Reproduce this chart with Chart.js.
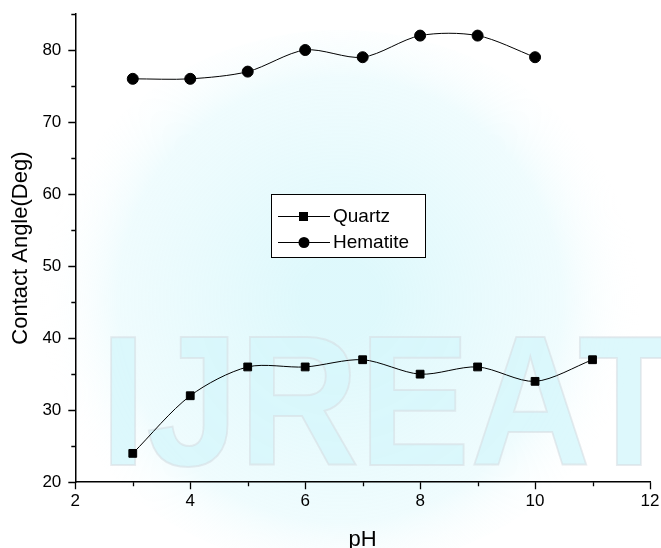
<!DOCTYPE html>
<html>
<head>
<meta charset="utf-8">
<script src="https://cdn.jsdelivr.net/npm/chart.js@4/dist/chart.umd.min.js"></script>
<style>
  html, body { margin: 0; padding: 0; background: #fff; }
  #wrap { width: 661px; height: 548px; position: relative; }
</style>
</head>
<body>
<div id="wrap"><canvas id="chart" width="661" height="548"></canvas></div>
<script>
const quartzPH = [3, 4, 5, 6, 7, 8, 9, 10, 11]
const quartzAngle = [24, 32, 36, 36, 37, 35, 36, 34, 37]
const hematitePH = [3, 4, 5, 6, 7, 8, 9, 10]
const hematiteAngle = [76, 76, 77, 80, 79, 82, 82, 79]
const xTicks = [2, 4, 6, 8, 10, 12]
const yTicks = [20, 30, 40, 50, 60, 70, 80]

const FONT = '"Liberation Sans", Arial, sans-serif'

function toPoints(xs, ys) {
    return xs.map((x, i) => ({x: x, y: ys[i]}))
}

// faint cyan watermark behind the plot
const watermark = {
    id: 'watermark',
    beforeDraw(chart) {
        const ctx = chart.ctx
        ctx.save()
        let g = ctx.createRadialGradient(340, 300, 40, 340, 300, 300)
        g.addColorStop(0, 'rgba(205,245,250,0.65)')
        g.addColorStop(0.7, 'rgba(220,248,252,0.45)')
        g.addColorStop(1, 'rgba(255,255,255,0)')
        ctx.fillStyle = g
        ctx.beginPath()
        ctx.ellipse(340, 300, 300, 270, 0, 0, Math.PI * 2)
        ctx.fill()
        ctx.font = 'bold 185px ' + FONT
        ctx.textBaseline = 'alphabetic'
        ctx.fillStyle = 'rgba(215,247,251,0.85)'
        ctx.strokeStyle = 'rgba(215,222,226,0.6)'
        ctx.lineWidth = 2
        ctx.translate(100, 465)
        ctx.scale(0.9, 1)
        ctx.fillText('IJREAT', 0, 0)
        ctx.strokeText('IJREAT', 0, 0)
        ctx.restore()
    }
}

// major / minor tick marks drawn outside the axes
const tickMarks = {
    id: 'tickMarks',
    afterDraw(chart) {
        const ctx = chart.ctx
        const xs = chart.scales.x, ys = chart.scales.y
        ctx.save()
        ctx.strokeStyle = '#000'
        ctx.lineWidth = 1.3
        ctx.beginPath()
        for (let v = 2; v <= 12; v++) {
            const px = Math.round(xs.getPixelForValue(v)) + 0.5
            const len = v % 2 === 0 ? 7 : 4
            ctx.moveTo(px, ys.bottom)
            ctx.lineTo(px, ys.bottom + len)
        }
        for (let v = 20; v <= 85; v += 5) {
            const py = Math.round(ys.getPixelForValue(v)) + 0.5
            const len = v % 10 === 0 ? 7 : 4
            ctx.moveTo(xs.left, py)
            ctx.lineTo(xs.left - len, py)
        }
        ctx.stroke()
        ctx.restore()
    }
}

// legend box inside plot
const boxLegend = {
    id: 'boxLegend',
    afterDraw(chart) {
        const ctx = chart.ctx
        const x0 = 271, y0 = 194, w = 154, h = 63
        ctx.save()
        ctx.fillStyle = '#fff'
        ctx.strokeStyle = '#000'
        ctx.lineWidth = 1
        ctx.fillRect(x0, y0, w, h)
        ctx.strokeRect(x0 + 0.5, y0 + 0.5, w, h)
        ctx.font = '19px ' + FONT
        ctx.textBaseline = 'middle'
        chart.data.datasets.forEach((ds, i) => {
            const cy = y0 + 22 + i * 26
            ctx.beginPath()
            ctx.moveTo(x0 + 7, cy + 0.5)
            ctx.lineTo(x0 + 59, cy + 0.5)
            ctx.stroke()
            ctx.fillStyle = '#000'
            if (ds.pointStyle === 'rect') {
                ctx.fillRect(x0 + 28, cy - 4, 9, 9)
            } else {
                ctx.beginPath()
                ctx.arc(x0 + 33, cy + 0.5, 5.5, 0, Math.PI * 2)
                ctx.fill()
            }
            ctx.fillText(ds.label, x0 + 62, cy + 1)
        })
        ctx.restore()
    }
}

const data = {
    datasets: [{
        label: 'Quartz',
        data: toPoints(quartzPH, quartzAngle),
        borderColor: '#000',
        backgroundColor: '#000',
        borderWidth: 1,
        pointStyle: 'rect',
        pointRadius: 5.5,
        tension: 0.3
    }, {
        label: 'Hematite',
        data: toPoints(hematitePH, hematiteAngle),
        borderColor: '#000',
        backgroundColor: '#000',
        borderWidth: 1,
        pointStyle: 'circle',
        pointRadius: 5.5,
        tension: 0.3
    }]
}

const config = {
    type: 'line',
    data: data,
    options: {
        responsive: false,
        animation: false,
        layout: {padding: {top: 14, right: 11, bottom: -5, left: 1}},
        plugins: {legend: {display: false}, tooltip: {enabled: false}},
        scales: {
            x: {
                type: 'linear',
                min: 2,
                max: 12,
                afterBuildTicks: s => { s.ticks = xTicks.map(v => ({value: v})) },
                afterFit: s => { s.paddingRight = 0 },
                grid: {display: true, drawOnChartArea: false, drawTicks: false},
                border: {display: true, color: '#000', width: 1.5},
                ticks: {color: '#000', padding: 9, maxRotation: 0,
                        font: {family: FONT, size: 17}},
                title: {display: true, text: 'pH', color: '#000', padding: {top: 6, bottom: 0},
                        font: {family: FONT, size: 22}}
            },
            y: {
                min: 20,
                max: 85,
                afterBuildTicks: s => { s.ticks = yTicks.map(v => ({value: v})) },
                afterFit: s => { s.paddingTop = 0 },
                grid: {display: true, drawOnChartArea: false, drawTicks: false},
                border: {display: true, color: '#000', width: 1.5},
                ticks: {color: '#000', padding: 14,
                        font: {family: FONT, size: 17}},
                title: {display: true, text: 'Contact Angle(Deg)', color: '#000', padding: {top: 7, bottom: -6},
                        font: {family: FONT, size: 22}}
            }
        }
    },
    plugins: [watermark, tickMarks, boxLegend]
}

let ctx = document.getElementById('chart').getContext('2d')
new Chart(ctx, config)
</script>
</body>
</html>
